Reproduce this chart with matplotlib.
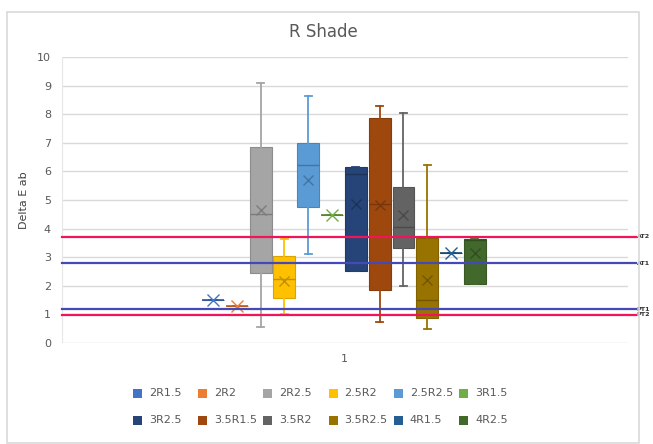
import numpy as np
import matplotlib
matplotlib.use("Agg")
from matplotlib import pyplot as plt
from matplotlib.patches import Rectangle
import matplotlib.colors as mcolors

names = ["2R1.5", "2R2", "2R2.5", "2.5R2", "2.5R2.5", "3R1.5",
         "3R2.5", "3.5R1.5", "3.5R2", "3.5R2.5", "4R1.5", "4R2.5"]
colors = ["#4472C4", "#ED7D31", "#A5A5A5", "#FFC000", "#5B9BD5", "#70AD47",
          "#264478", "#9E480E", "#636363", "#997300", "#255E91", "#43682B"]

# whisker low, q1, median, q3, whisker high, mean
wlo = [1.5, 1.3, 0.57, 1.0, 3.1, 4.48, 2.52, 0.74, 1.98, 0.49, 3.15, 2.05]
q1 = [1.5, 1.3, 2.45, 1.57, 4.77, 4.48, 2.52, 1.85, 3.33, 0.88, 3.15, 2.05]
med = [1.5, 1.3, 4.52, 2.25, 6.23, 4.48, 5.9, 4.87, 4.05, 1.52, 3.15, 3.6]
q3 = [1.5, 1.3, 6.86, 3.03, 6.99, 4.48, 6.17, 7.86, 5.45, 3.67, 3.15, 3.65]
whi = [1.5, 1.3, 9.1, 3.62, 8.64, 4.48, 6.17, 8.29, 8.04, 6.24, 3.15, 3.65]
means = [1.5, 1.3, 4.66, 2.17, 5.70, 4.48, 4.87, 4.81, 4.48, 2.22, 3.15, 3.15]

ref_vals = [3.72, 2.78, 1.18, 0.98]
ref_names = ["AT2", "AT1", "PT1", "PT2"]
ref_colors = ["#F2145A", "#4549B8", "#4549B8", "#F2145A"]

W, H = 653, 444
fig = plt.figure(figsize=(W / 100, H / 100), dpi=100)
ax = fig.add_axes([62 / W, 1 - 343 / H, (628 - 62) / W, (343 - 57) / H])

# chart border
fig.patches.append(Rectangle((7 / W, 1 - 443 / H), 632 / W, 431 / H,
                             transform=fig.transFigure, fill=False,
                             edgecolor="#D9D9D9", linewidth=1.2))

for y in range(0, 11):
    ax.axhline(y, color="#D9D9D9", linewidth=1, zorder=0)

def darker(c, f=0.7):
    r, g, b = mcolors.to_rgb(c)
    return (r * f, g * f, b * f)

pos = np.arange(len(names))
for i in range(len(names)):
    st = [dict(whislo=wlo[i], q1=q1[i], med=med[i], q3=q3[i],
               whishi=whi[i], mean=means[i], fliers=[])]
    c = colors[i]
    single = q1[i] == q3[i]
    ax.bxp(st, positions=[pos[i]], widths=0.92, patch_artist=True,
           showmeans=True, manage_ticks=False,
           boxprops=dict(facecolor=c, edgecolor=darker(c, 0.85), linewidth=0.8),
           medianprops=dict(color=darker(c, 0.75), linewidth=1.0 if not single else 1.2),
           whiskerprops=dict(color=c, linewidth=1.3),
           capprops=dict(color=c, linewidth=1.3),
           capwidths=0.3,
           meanprops=dict(marker="x", markeredgecolor=darker(c, 0.75) if not single else c,
                          markersize=7 if not single else 9, markeredgewidth=1.0),
           zorder=3)

x0, x1 = -6.34, 17.43
ax.set_xlim(x0, x1)
ax.set_ylim(0, 10)
ax.set_yticks(range(0, 11))
ax.set_xticks([5.5])
ax.set_xticklabels(["1"])
ax.tick_params(length=0, labelsize=8, labelcolor="#595959", pad=8)
for s in ax.spines.values():
    s.set_visible(False)
ax.axvline(x0, color="#E6E6E6", linewidth=0.8, zorder=0)

# reference lines extending a little past the plot area
xend = x1 + 8 / 23.8
for v, n, c in zip(ref_vals, ref_names, ref_colors):
    ax.plot([x0, xend], [v, v], color=c, linewidth=1.6, clip_on=False, zorder=4)
    ax.annotate(n, xy=(xend, v), xytext=(0.5, 0), textcoords="offset points",
                fontsize=4.6, color="#333333", va="center", ha="left",
                fontweight="bold", annotation_clip=False)

ax.set_ylabel("Delta E ab", fontsize=8, color="#404040", labelpad=6)
fig.text(323 / W, 1 - 32 / H, "R Shade", fontsize=12, color="#595959",
         ha="center", va="center")

# legend: two rows of six, filled row by row, equal column widths
for k, (n, c) in enumerate(zip(names, colors)):
    row, col = divmod(k, 6)
    px = 133 + 65.2 * col
    py = 393 + 27 * row
    fig.patches.append(Rectangle((px / W, 1 - (py + 4.5) / H), 9 / W, 9 / H,
                                 transform=fig.transFigure, facecolor=c,
                                 edgecolor="none"))
    fig.text((px + 16) / W, 1 - py / H, n, fontsize=8, color="#595959",
             ha="left", va="center")

fig.savefig("out.png", dpi=100)
